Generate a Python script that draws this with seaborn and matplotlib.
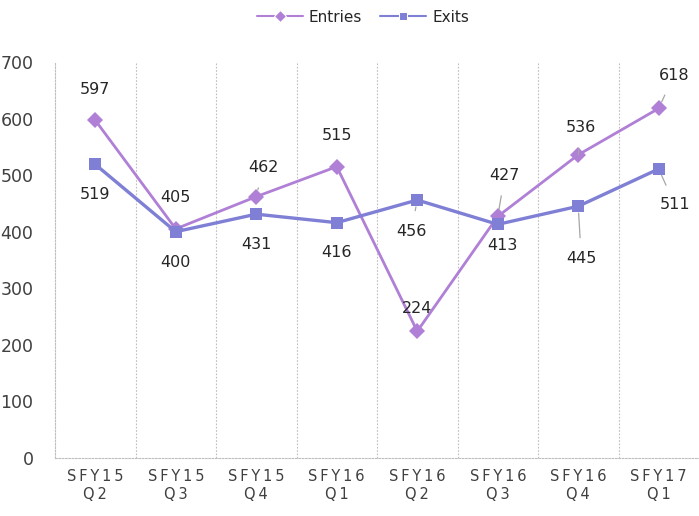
import pandas as pd
import matplotlib.pyplot as plt
import seaborn as sns

sns.set_style("white")
plt.rcParams['font.family'] = ['DejaVu Sans']

# --- data ---
quarters = ['SFY15 Q2', 'SFY15 Q3', 'SFY15 Q4', 'SFY16 Q1',
            'SFY16 Q2', 'SFY16 Q3', 'SFY16 Q4', 'SFY17 Q1']
tick_labels = ['S\u2009F\u2009Y\u20091\u20095\nQ\u20092', 'S\u2009F\u2009Y\u20091\u20095\nQ\u20093',
               'S\u2009F\u2009Y\u20091\u20095\nQ\u20094', 'S\u2009F\u2009Y\u20091\u20096\nQ\u20091',
               'S\u2009F\u2009Y\u20091\u20096\nQ\u20092', 'S\u2009F\u2009Y\u20091\u20096\nQ\u20093',
               'S\u2009F\u2009Y\u20091\u20096\nQ\u20094', 'S\u2009F\u2009Y\u20091\u20097\nQ\u20091']
entries = [597, 405, 462, 515, 224, 427, 536, 618]
exits = [519, 400, 431, 416, 456, 413, 445, 511]

# label offsets in pixels (dx, dy) and whether a leader line is drawn
entries_off = [(0, 31), (0, 31), (7, 29), (0, 31), (0, 23), (7, 41), (3, 27), (15, 33)]
entries_lead = [False, False, True, False, False, True, True, True]
exits_off = [(0, -30), (0, -31), (0, -30), (0, -30), (-6, -31), (5, -21), (3, -52), (16, -36)]
exits_lead = [False, False, False, False, True, False, True, True]

df = pd.DataFrame({'Quarter': quarters * 2,
                   'Value': entries + exits,
                   'Series': ['Entries'] * len(quarters) + ['Exits'] * len(quarters)})

colors = {'Entries': '#b07fd6', 'Exits': '#7f7fd5'}

fig = plt.figure(figsize=(6.99, 5.16), dpi=100)
ax = fig.add_axes([55 / 699, 58 / 516, 1 - 55 / 699, (458 - 62) / 516])

sns.lineplot(data=df, x='Quarter', y='Value', hue='Series', style='Series',
             markers={'Entries': 'D', 'Exits': 's'}, dashes=False,
             palette=colors, ax=ax, sort=False)
for line, lw, ms in zip(ax.lines[:2], [2.0, 2.4], [8, 9]):
    line.set_linewidth(lw)
    line.set_markersize(ms)
    line.set_markeredgewidth(0)

ax.set_xlim(-0.5, len(quarters) - 0.5)
ax.set_ylim(0, 700)
ax.set_yticks(range(0, 701, 100))
ax.set_xticks(range(len(quarters)))
ax.set_xticklabels(tick_labels, fontsize=10.5, color='#404040', linespacing=1.25)
ax.tick_params(axis='y', labelsize=12.5, pad=15.5, length=0, labelcolor='#404040')
ax.tick_params(axis='x', pad=8, length=0)
ax.set_xlabel('')
ax.set_ylabel('')

# category boundary gridlines
ax.set_xticks([i + 0.5 for i in range(len(quarters) - 1)], minor=True)
ax.tick_params(axis='x', which='minor', length=0)
ax.grid(True, which='minor', axis='x', color='#bfbfbf', linestyle=(0, (1.5, 1.5)), linewidth=0.8)
ax.grid(False, which='major')

for side in ['top', 'right']:
    ax.spines[side].set_visible(False)
for side in ['left', 'bottom']:
    ax.spines[side].set_color('#bfbfbf')
    ax.spines[side].set_linestyle((0, (1.5, 1.5)))
    ax.spines[side].set_linewidth(0.8)

# data labels
for vals, offs, leads in [(entries, entries_off, entries_lead), (exits, exits_off, exits_lead)]:
    for i, (v, off, lead) in enumerate(zip(vals, offs, leads)):
        kw = {}
        if lead:
            kw['arrowprops'] = dict(arrowstyle='-', color='#a6a6a6', lw=0.9, shrinkA=7, shrinkB=5)
        ax.annotate(str(v), xy=(i, v), xytext=off, textcoords='offset pixels',
                    ha='center', va='center', fontsize=11.5, color='#262626', **kw)

handles, labels = ax.get_legend_handles_labels()
ax.get_legend().remove()
fig.legend(handles, labels, loc='center', bbox_to_anchor=(363 / 699, 1 - 17 / 516),
           ncol=2, frameon=False, fontsize=11, handlelength=3, columnspacing=1.2,
           handletextpad=0.4)

fig.savefig('out.png', dpi=100)
